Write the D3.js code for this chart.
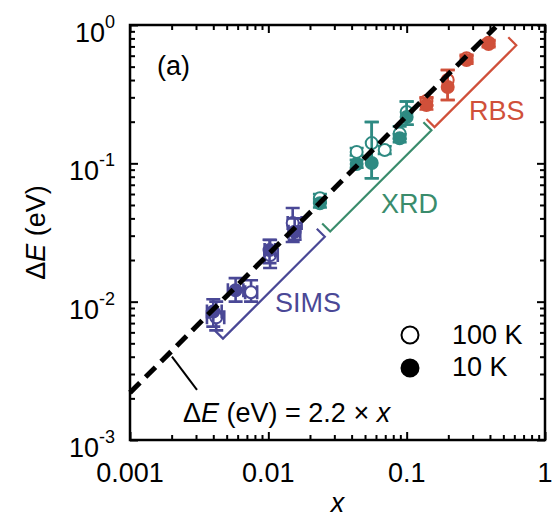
<!DOCTYPE html>
<html>
<head>
<meta charset="utf-8">
<script src="https://cdn.jsdelivr.net/npm/d3@7"></script>
<style>
  body { margin: 0; background: #fff; }
  text { font-family: "Liberation Sans", Arial, sans-serif; }
</style>
</head>
<body>
<div class="graph"></div>
<script>
// ---- data ----
const xTicks = [0.001, 0.01, 0.1, 1];
const xTickLabels = ["0.001", "0.01", "0.1", "1"];
const yTicks = [0.001, 0.01, 0.1, 1];
const yTickExps = ["-3", "-2", "-1", "0"];

// SIMS
const simsOpenX   = [0.0042, 0.0075, 0.0103, 0.0150];
const simsOpenY   = [0.0077, 0.0117, 0.0217, 0.0370];
const simsOpenYLo = [0.0062, 0.0100, 0.0175, 0.0270];
const simsOpenYHi = [0.0100, 0.0143, 0.0279, 0.0475];
const simsOpenXLo = [0.0036, 0.0068, 0.0094, 0.0138];
const simsOpenXHi = [0.0048, 0.0083, 0.0117, 0.0174];
const simsFillX   = [0.0040, 0.0058, 0.0102, 0.0155];
const simsFillY   = [0.0085, 0.0121, 0.0236, 0.0320];
const simsFillYLo = [0.0066, 0.0100, 0.0190, 0.0280];
const simsFillYHi = [0.0104, 0.0148, 0.0280, 0.0400];
const simsFillXLo = [0.0036, 0.0051, 0.0094, 0.0140];
const simsFillXHi = [0.0046, 0.0066, 0.0112, 0.0170];

// XRD
const xrdOpenX   = [0.0236, 0.0435, 0.0559, 0.0694, 0.089, 0.100];
const xrdOpenY   = [0.056, 0.121, 0.140, 0.125, 0.164, 0.235];
const xrdOpenYLo = [0.052, 0.114, 0.078, 0.117, 0.150, 0.190];
const xrdOpenYHi = [0.060, 0.129, 0.199, 0.133, 0.185, 0.280];
const xrdFillX   = [0.0236, 0.0435, 0.0559, 0.089, 0.100];
const xrdFillY   = [0.0514, 0.099, 0.1005, 0.152, 0.216];
const xrdFillYLo = [0.048, 0.093, 0.078, 0.142, 0.190];
const xrdFillYHi = [0.055, 0.106, 0.199, 0.162, 0.280];

// RBS
const rbsOpenX   = [0.139, 0.198, 0.271, 0.391];
const rbsOpenY   = [0.282, 0.400, 0.575, 0.745];
const rbsOpenYLo = [0.262, 0.287, 0.540, 0.705];
const rbsOpenYHi = [0.300, 0.473, 0.610, 0.780];
const rbsFillX   = [0.139, 0.198, 0.271, 0.391];
const rbsFillY   = [0.264, 0.356, 0.558, 0.729];
const rbsFillYLo = [0.245, 0.287, 0.525, 0.690];
const rbsFillYHi = [0.296, 0.473, 0.600, 0.770];

// fit line dE = 2.2 x
const fitSlope = 2.2;
const fitRange = [0.001, 0.44];

// brackets (x range along y = 1.15 x)
const bracketFactor = 1.15;
const bracketNames = ["SIMS", "XRD", "RBS"];
const bracketRanges = [[0.0047, 0.0256], [0.0280, 0.151], [0.159, 0.62]];

const colSims = "#4a4896";
const colXrd = "#2e8a82";
const colXrdLab = "#3a8c6c";
const colRbs = "#d0503a";

// ---- layout ----
const W = 552, H = 520;
const margin = { top: 25, left: 130, bottom: 80, right: 7 };
const x0 = margin.left, x1 = W - margin.right;
const y0 = margin.top, y1 = H - margin.bottom;
const fs = 27;

const xScale = d3.scaleLog().domain([0.001, 1]).range([x0, x1]);
const yScale = d3.scaleLog().domain([0.001, 1]).range([y1, y0]);

const svg = d3.select('.graph')
  .append('svg')
  .attr('width', W)
  .attr('height', H);

// minor tick values
const minors = [];
[0.001, 0.01, 0.1].forEach(d => {
  for (let k = 2; k <= 9; k++) minors.push(d * k);
});

function axisPair(axisFn, scale, transform) {
  svg.append('g').attr('transform', transform)
    .call(axisFn(scale).tickValues(xTicks).tickSize(-8).tickFormat(''))
    .call(g => g.select('.domain').remove())
    .call(g => g.selectAll('line').attr('stroke-width', 2));
  svg.append('g').attr('transform', transform)
    .call(axisFn(scale).tickValues(minors).tickSize(-5).tickFormat(''))
    .call(g => g.select('.domain').remove())
    .call(g => g.selectAll('line').attr('stroke-width', 2));
}

axisPair(d3.axisBottom, xScale, `translate(0,${y1})`);
axisPair(d3.axisTop, xScale, `translate(0,${y0})`);
axisPair(d3.axisLeft, yScale, `translate(${x0},0)`);
axisPair(d3.axisRight, yScale, `translate(${x1},0)`);

svg.append('rect')
  .attr('x', x0).attr('y', y0)
  .attr('width', x1 - x0).attr('height', y1 - y0)
  .attr('fill', 'none').attr('stroke', '#000').attr('stroke-width', 2.5);

// tick labels
svg.selectAll('.xlab')
  .data(xTicks)
  .enter().append('text')
  .attr('class', 'xlab')
  .attr('x', d => xScale(d))
  .attr('y', y1 + 42)
  .attr('text-anchor', 'middle')
  .attr('font-size', fs)
  .text((d, i) => xTickLabels[i]);

const ylab = svg.selectAll('.ylab')
  .data(yTicks)
  .enter().append('text')
  .attr('class', 'ylab')
  .attr('x', x0 - 15)
  .attr('y', d => yScale(d) + 17)
  .attr('text-anchor', 'end')
  .attr('font-size', fs);
ylab.append('tspan').text('10');
ylab.append('tspan').attr('dy', -14).attr('font-size', 18).text((d, i) => yTickExps[i]);

// axis titles
const yt = svg.append('text')
  .attr('transform', `translate(45,${(y0 + y1) / 2}) rotate(-90)`)
  .attr('text-anchor', 'middle')
  .attr('font-size', fs);
yt.append('tspan').text('\u0394');
yt.append('tspan').attr('font-style', 'italic').text('E');
yt.append('tspan').text(' (eV)');

svg.append('text')
  .attr('x', (x0 + x1) / 2)
  .attr('y', 512)
  .attr('text-anchor', 'middle')
  .attr('font-size', fs)
  .attr('font-style', 'italic')
  .text('x');

svg.append('text')
  .attr('x', 157).attr('y', 75)
  .attr('font-size', fs)
  .text('(a)');

// brackets
const bColors = [colSims, colXrdLab, colRbs];
const cap = 8;
bracketRanges.forEach((r, i) => {
  const ax = xScale(r[0]), ay = yScale(r[0] * bracketFactor);
  const bx = xScale(r[1]), by = yScale(r[1] * bracketFactor);
  svg.append('path')
    .attr('d', `M${ax - cap},${ay - cap}L${ax},${ay}L${bx},${by}L${bx - cap},${by - cap}`)
    .attr('fill', 'none')
    .attr('stroke', bColors[i])
    .attr('stroke-width', 2.2);
});

const labelPos = [[275, 312], [381, 213], [469, 120]];
bracketNames.forEach((n, i) => {
  svg.append('text')
    .attr('x', labelPos[i][0]).attr('y', labelPos[i][1])
    .attr('font-size', fs)
    .attr('fill', bColors[i])
    .text(n);
});

// points
function drawSeries(xs, ys, lo, hi, xlo, xhi, color, filled) {
  const data = xs.map((d, i) => ({
    x: d, y: ys[i], lo: lo[i], hi: hi[i],
    xlo: xlo ? xlo[i] : null, xhi: xhi ? xhi[i] : null
  }));
  const g = svg.append('g')
    .attr('stroke', color)
    .attr('stroke-width', 2.6)
    .attr('fill', 'none');
  const w = 7;
  data.forEach(d => {
    const cx = xScale(d.x);
    g.append('path').attr('d',
      `M${cx},${yScale(d.lo)}L${cx},${yScale(d.hi)}` +
      `M${cx - w},${yScale(d.lo)}L${cx + w},${yScale(d.lo)}` +
      `M${cx - w},${yScale(d.hi)}L${cx + w},${yScale(d.hi)}`);
    if (d.xlo !== null) {
      const cy = yScale(d.y);
      g.append('path').attr('d',
        `M${xScale(d.xlo)},${cy}L${xScale(d.xhi)},${cy}` +
        `M${xScale(d.xlo)},${cy - w}L${xScale(d.xlo)},${cy + w}` +
        `M${xScale(d.xhi)},${cy - w}L${xScale(d.xhi)},${cy + w}`);
    }
  });
  g.selectAll('circle')
    .data(data)
    .enter().append('circle')
    .attr('cx', d => xScale(d.x))
    .attr('cy', d => yScale(d.y))
    .attr('r', 6)
    .attr('stroke-width', 2)
    .attr('fill', filled ? color : '#fff');
}

drawSeries(simsOpenX, simsOpenY, simsOpenYLo, simsOpenYHi, simsOpenXLo, simsOpenXHi, colSims, false);
drawSeries(simsFillX, simsFillY, simsFillYLo, simsFillYHi, simsFillXLo, simsFillXHi, colSims, true);
drawSeries(xrdOpenX, xrdOpenY, xrdOpenYLo, xrdOpenYHi, null, null, colXrd, false);
drawSeries(xrdFillX, xrdFillY, xrdFillYLo, xrdFillYHi, null, null, colXrd, true);
drawSeries(rbsOpenX, rbsOpenY, rbsOpenYLo, rbsOpenYHi, null, null, colRbs, false);
drawSeries(rbsFillX, rbsFillY, rbsFillYLo, rbsFillYHi, null, null, colRbs, true);

// fit line
const fitLine = d3.line()
  .x(d => xScale(d))
  .y(d => yScale(fitSlope * d));
svg.append('path')
  .datum(fitRange)
  .attr('d', fitLine)
  .attr('fill', 'none')
  .attr('stroke', '#000')
  .attr('stroke-width', 5)
  .attr('stroke-dasharray', '14,8');

// formula annotation
svg.append('line')
  .attr('x1', xScale(0.00201)).attr('y1', yScale(0.0040))
  .attr('x2', xScale(0.00305)).attr('y2', yScale(0.0023))
  .attr('stroke', '#000').attr('stroke-width', 2);

const ft = svg.append('text')
  .attr('x', 183).attr('y', 422)
  .attr('font-size', fs);
ft.append('tspan').text('\u0394');
ft.append('tspan').attr('font-style', 'italic').text('E');
ft.append('tspan').text(' (eV) = 2.2 \u00d7 ');
ft.append('tspan').attr('font-style', 'italic').text('x');

// legend
const legend = [["100 K", false], ["10 K", true]];
legend.forEach((d, i) => {
  svg.append('circle')
    .attr('cx', 410).attr('cy', 335 + i * 33)
    .attr('r', 8.5)
    .attr('stroke', '#000').attr('stroke-width', 2)
    .attr('fill', d[1] ? '#000' : '#fff');
  svg.append('text')
    .attr('x', 452).attr('y', 344 + i * 32)
    .attr('font-size', fs)
    .text(d[0]);
});
</script>
</body>
</html>
